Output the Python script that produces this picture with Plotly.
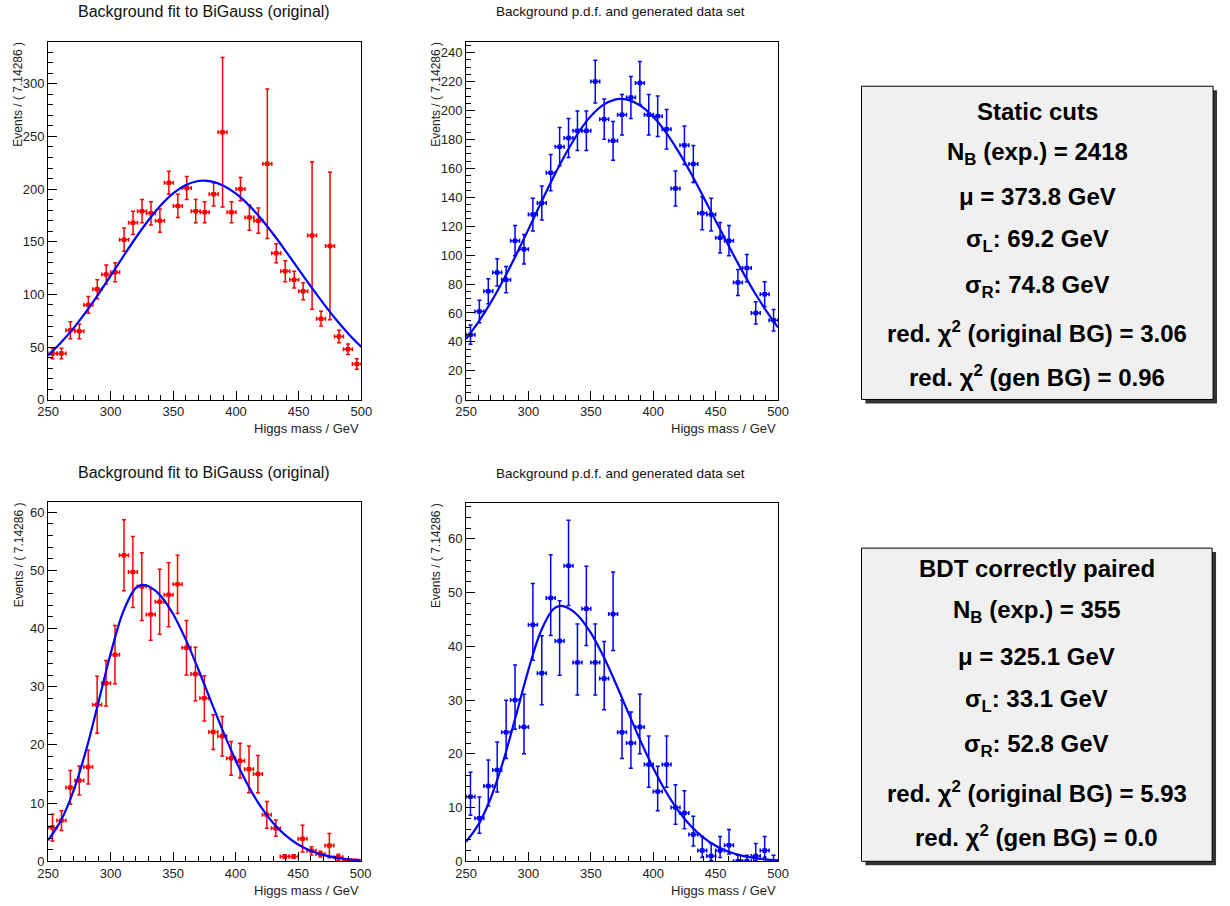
import plotly.graph_objects as go

# ---------------- data ----------------
X_MIN, X_MAX, N_BINS = 250.0, 500.0, 35
BIN_WIDTH = (X_MAX - X_MIN) / N_BINS  # 7.14286
bin_centers = [X_MIN + BIN_WIDTH * (i + 0.5) for i in range(N_BINS)]

# Static cuts: original (weighted) background
red_static_y = [44, 44, 66, 65, 90, 105, 119, 121, 152, 168, 179, 177, 170, 206, 184, 201, 179, 178,
                195, 254, 178, 200, 173, 170, 224, 139, 122, 114, 103, 156, 77, 146, 60, 48, 34]
red_static_err = [5, 5, 8, 7, 8, 9, 9, 9, 11, 11, 11, 11, 11, 11, 11, 11, 11, 10,
                  11, 71, 10, 11, 12, 12, 71, 9, 10, 8, 8, 70, 7, 70, 6, 5, 5]

# Static cuts: generated data set
blue_static_y = [45, 61, 75, 88, 83, 110, 104, 128, 136, 157, 175, 181, 186, 186, 220, 194, 179, 197,
                 209, 219, 197, 196, 187, 146, 176, 163, 129, 128, 112, 110, 81, 91, 60, 73, 55]
blue_static_err = [6.7, 7.8, 8.7, 9.4, 9.1, 10.5, 10.2, 11.3, 11.7, 12.5, 13.2, 13.5, 13.6, 13.6, 14.8,
                   13.9, 13.4, 14.0, 14.5, 14.8, 14.0, 14.0, 13.7, 12.1, 13.3, 12.8, 11.4, 11.3, 10.6,
                   10.5, 9.0, 9.5, 7.7, 8.5, 7.4]

# BDT correctly paired: original (weighted) background
red_bdt_y = [5.8, 7.0, 12.7, 13.9, 16.2, 26.9, 30.6, 35.5, 52.6, 49.7, 47.2, 42.4, 44.6, 45.8, 47.6,
             36.7, 32.2, 28.0, 22.2, 21.5, 17.7, 17.3, 15.8, 15.0, 8.0, 5.7, 0.85, 0.85, 3.9, 1.8,
             1.25, 2.7, 0.7, 0.2, 0.1]
red_bdt_err = [2.3, 1.7, 2.9, 2.5, 2.9, 4.9, 3.9, 5.0, 6.1, 6.1, 5.8, 4.4, 5.6, 5.5, 5.0, 4.7, 4.6,
               3.9, 3.0, 3.4, 2.9, 3.0, 4.0, 3.2, 2.3, 1.4, 0.3, 0.3, 2.3, 0.7, 0.5, 2.1, 0.5, 0.2, 0.1]

# BDT correctly paired: generated data set (counts, Poisson errors)
blue_bdt_y = [12, 8, 14, 17, 24, 30, 25, 44, 35, 49, 41, 55, 37, 47, 37, 34, 46, 24, 22, 25, 18, 13,
              18, 10, 9, 5, 2, 1, 2, 3, 0, 0, 1, 2, 0]
blue_bdt_err_lo = [3.42, 2.77, 3.71, 4.10, 4.88, 5.45, 4.98, 6.61, 5.89, 6.98, 6.38, 7.40, 6.06, 6.84,
                   6.06, 5.81, 6.76, 4.88, 4.67, 4.98, 4.22, 3.57, 4.22, 3.11, 2.94, 2.16, 1.29, 0.83,
                   1.29, 1.63, 0, 0, 0.83, 1.29, 0]
blue_bdt_err_hi = [4.55, 3.95, 4.83, 5.20, 5.97, 6.54, 6.07, 7.69, 6.98, 8.05, 7.46, 8.47, 7.14, 7.91,
                   7.14, 6.90, 7.84, 5.97, 5.76, 6.07, 5.32, 4.69, 5.32, 4.26, 4.11, 3.38, 2.64, 2.30,
                   2.64, 2.92, 1.15, 1.15, 2.30, 2.64, 1.15]

# Fitted BiGauss curves
curve_x_static = [250, 260, 270, 280, 290, 300, 310, 320, 330, 340, 350, 360, 370, 373.8,
                  380, 390, 400, 410, 420, 430, 440, 450, 460, 470, 480, 490, 500]
curve_y_static = [42.0, 53.8, 67.5, 83.0, 99.9, 117.8, 136.0, 153.8, 170.2, 184.6, 196.1, 203.9, 207.7,
                  208.0, 207.3, 203.2, 195.6, 185.0, 171.9, 156.9, 140.6, 123.8, 107.1, 91.0, 75.9,
                  62.2, 50.1]
curve_x_bdt = [250, 260, 270, 280, 290, 300, 310, 320, 325.1, 330, 340, 350, 360, 370, 380, 390,
               400, 410, 420, 430, 440, 450, 460, 470, 480, 490, 500]
curve_y_bdt = [3.62, 6.87, 11.88, 18.77, 27.07, 35.63, 42.81, 46.94, 47.5, 47.3, 45.65, 42.5, 38.18,
               33.09, 27.66, 22.32, 17.37, 13.04, 9.44, 6.60, 4.45, 2.89, 1.82, 1.10, 0.64, 0.36, 0.20]

title_fit = "Background fit to BiGauss (original)"
title_gen = "Background p.d.f. and generated data set"
y_title = "Events / ( 7.14286 )"
x_title = "Higgs mass / GeV"

box_static = ["Static cuts", "N<sub>B</sub> (exp.) = 2418", "μ = 373.8 GeV", "σ<sub>L</sub>: 69.2 GeV",
              "σ<sub>R</sub>: 74.8 GeV", "red. χ<sup>2</sup> (original BG) = 3.06",
              "red. χ<sup>2</sup> (gen BG) = 0.96"]
box_bdt = ["BDT correctly paired", "N<sub>B</sub> (exp.) = 355", "μ = 325.1 GeV", "σ<sub>L</sub>: 33.1 GeV",
           "σ<sub>R</sub>: 52.8 GeV", "red. χ<sup>2</sup> (original BG) = 5.93",
           "red. χ<sup>2</sup> (gen BG) = 0.0"]

# ---------------- layout helpers ----------------
W, H = 1230, 906
FONT = "Liberation Sans, Arial, Helvetica, sans-serif"


def px(x):
    return x / W


def py(y):
    return 1 - y / H


RED = "#ff0000"
BLUE = "#0000ff"

panels = [
    dict(n=1, xd=(37.7, 356.7), yd=(42, 403.3), yr=340, ymaj=50, ymin=10,
         y=red_static_y, lo=red_static_err, hi=red_static_err, color=RED,
         cx=curve_x_static, cy=curve_y_static, title=title_fit),
    dict(n=2, xd=(463.3, 781), yd=(42, 403.3), yr=247.6, ymaj=20, ymin=5,
         y=blue_static_y, lo=blue_static_err, hi=blue_static_err, color=BLUE,
         cx=curve_x_static, cy=curve_y_static, title=title_gen),
    dict(n=3, xd=(37.7, 356), yd=(506.7, 869), yr=61.7, ymaj=10, ymin=2,
         y=red_bdt_y, lo=red_bdt_err, hi=red_bdt_err, color=RED,
         cx=curve_x_bdt, cy=curve_y_bdt, title=title_fit),
    dict(n=4, xd=(463.3, 781), yd=(507.3, 869), yr=66.7, ymaj=10, ymin=2,
         y=blue_bdt_y, lo=blue_bdt_err_lo, hi=blue_bdt_err_hi, color=BLUE,
         cx=curve_x_bdt, cy=curve_y_bdt, title=title_gen),
]

fig = go.Figure()
annotations = []
shapes = []

for p in panels:
    n = p["n"]
    xa = "x" if n == 1 else f"x{n}"
    ya = "y" if n == 1 else f"y{n}"
    fig.add_trace(go.Scatter(
        x=bin_centers, y=p["y"], mode="markers", xaxis=xa, yaxis=ya,
        marker=dict(color=p["color"], size=4.5, symbol="square"),
        error_y=dict(type="data", array=p["hi"], arrayminus=p["lo"], symmetric=False,
                     color=p["color"], thickness=1.5, width=2),
        error_x=dict(type="constant", value=BIN_WIDTH / 2, color=p["color"], thickness=1.5, width=2),
        showlegend=False, hoverinfo="x+y"))
    fig.add_trace(go.Scatter(
        x=p["cx"], y=p["cy"], mode="lines", xaxis=xa, yaxis=ya,
        line=dict(color=BLUE, width=2.2, shape="spline", smoothing=1.0),
        showlegend=False, hoverinfo="skip"))

    common = dict(showline=True, linecolor="black", linewidth=1, mirror=True,
                  ticks="inside", ticklen=9, tickwidth=1, tickcolor="black",
                  showgrid=False, zeroline=False,
                  tickfont=dict(family=FONT, size=13, color="#222"))
    xkey = "xaxis" if n == 1 else f"xaxis{n}"
    ykey = "yaxis" if n == 1 else f"yaxis{n}"
    fig.update_layout({
        xkey: dict(common, domain=[px(p["xd"][0]), px(p["xd"][1])], range=[X_MIN, X_MAX],
                   anchor=ya, tick0=250, dtick=50,
                   minor=dict(ticks="inside", ticklen=5, tickcolor="black", dtick=10, showgrid=False)),
        ykey: dict(common, domain=[py(p["yd"][1]), py(p["yd"][0])], range=[0, p["yr"]],
                   anchor=xa, tick0=0, dtick=p["ymaj"],
                   minor=dict(ticks="inside", ticklen=5, tickcolor="black", dtick=p["ymin"],
                              showgrid=False)),
    })

    left = n in (1, 3)
    annotations.append(dict(
        text=p["title"], x=px(197 if left else 621),
        y=py(p["yd"][0] - 30), xref="paper", yref="paper", showarrow=False,
        font=dict(family=FONT, size=16 if left else 13.5, color="#111"),
        xanchor="center", yanchor="middle"))
    annotations.append(dict(
        text=y_title, x=px(p["xd"][0] - 30), y=py(p["yd"][0] - 2), xref="paper", yref="paper",
        showarrow=False, textangle=-90, font=dict(family=FONT, size=12, color="#222"),
        xanchor="center", yanchor="top"))
    annotations.append(dict(
        text=x_title, x=px(p["xd"][1]), y=py(p["yd"][1] + 29), xref="paper", yref="paper",
        showarrow=False, font=dict(family=FONT, size=13, color="#222"),
        xanchor="right", yanchor="middle"))

# ---------------- text boxes ----------------
boxes = [
    dict(lines=box_static, x0=866, x1=1224, y0=87, y1=403,
         ys=[112, 155, 198, 243, 289, 335, 379]),
    dict(lines=box_bdt, x0=866, x1=1223, y0=553, y1=869,
         ys=[574, 617, 662, 707, 752, 799, 843]),
]
for b in boxes:
    shapes.append(dict(type="rect", xref="paper", yref="paper",
                       x0=px(b["x0"] + 4), x1=px(b["x1"] + 4), y0=py(b["y1"] + 4), y1=py(b["y0"] + 4),
                       fillcolor="#333333", line=dict(width=0), layer="below"))
    shapes.append(dict(type="rect", xref="paper", yref="paper",
                       x0=px(b["x0"]), x1=px(b["x1"]), y0=py(b["y1"]), y1=py(b["y0"]),
                       fillcolor="#f0f0f0", line=dict(color="black", width=1), layer="below"))
    for txt, yy in zip(b["lines"], b["ys"]):
        annotations.append(dict(
            text=f"<b>{txt}</b>", x=px((b["x0"] + b["x1"]) / 2), y=py(yy), xref="paper", yref="paper",
            showarrow=False, font=dict(family=FONT, size=24, color="black"),
            xanchor="center", yanchor="middle"))

fig.update_layout(
    width=W, height=H, autosize=False,
    margin=dict(l=0, r=0, t=0, b=0),
    paper_bgcolor="white", plot_bgcolor="white",
    annotations=annotations, shapes=shapes,
    showlegend=False,
)

fig.write_html("out.html")
